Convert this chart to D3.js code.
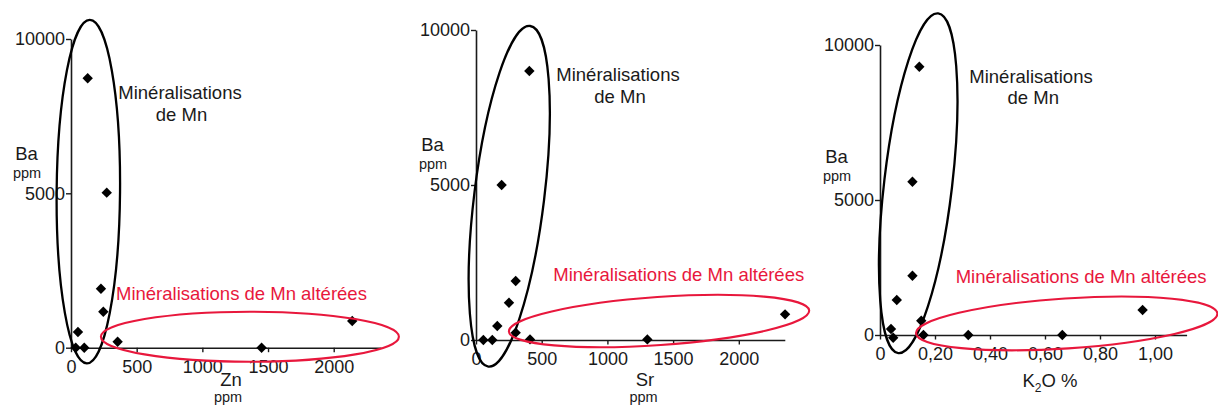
<!DOCTYPE html>
<html>
<head>
<meta charset="utf-8">
<script src="https://cdn.jsdelivr.net/npm/d3@7"></script>
<style>
html,body{margin:0;padding:0;background:#fff;}
svg{display:block;font-family:"Liberation Sans",Arial,sans-serif;}
</style>
</head>
<body>
<svg id="chart" width="1218" height="408"></svg>
<script>
// ---------- DATA ----------
const yTicks = [0, 5000, 10000];

const znValues = [127, 272, 228, 246, 53, 36, 101, 355, 1451, 2141];
const znBa     = [8727, 5021, 1911, 1166, 508, 0, 0, 195, 0, 865];
const znTicks  = [0, 500, 1000, 1500, 2000];

const srValues = [406, 195, 302, 251, 162, 56, 124, 302, 411, 1304, 2352];
const srBa     = [8677, 5000, 1903, 1204, 452, 0, 0, 237, 20, 20, 828];
const srTicks  = [0, 500, 1000, 1500, 2000];

const k2oValues = [0.143, 0.118, 0.118, 0.061, 0.040, 0.048, 0.150, 0.158, 0.321, 0.663, 0.955];
const k2oBa     = [9300, 5590, 2196, 1296, 222, -100, 530, 0, 0, 0, 926];
const k2oTicks  = [0, 0.2, 0.4, 0.6, 0.8, 1.0];

const groupLabel = ["Minéralisations", "de Mn"];
const alteredLabel = "Minéralisations de Mn altérées";

// ---------- LAYOUT ----------
const svg = d3.select("#chart");
const RED = "#e8173c";
const FS = 18.5;
const FS_UNIT = 14.5;

const panels = [
  {
    xs: znValues, ys: znBa, xTicks: znTicks, xMax: 2360,
    xr: [71, 381], yr: [347.7, 193.3, 39],
    fmt: d => String(d),
    xLabel: "Zn", xUnit: "ppm", xLabelPos: [231, 385.5], xUnitPos: [228, 402],
    baPos: [26.5, 159.5], ppmPos: [27, 177.5],
    grpPos: [180, 99.3], grpPos2: [181.5, 121],
    altPos: [116, 300],
    black: {cx: 132, cy: 5053, rx: 31.7, ry: 171.7, rot: 0.5},
    red:   {cx: 1362, cy: 356, rx: 149, ry: 25, rot: 0}
  },
  {
    xs: srValues, ys: srBa, xTicks: srTicks, xMax: 2350,
    xr: [476, 784.8], yr: [340, 185, 30],
    fmt: d => String(d),
    xLabel: "Sr", xUnit: "ppm", xLabelPos: [645, 385.5], xUnitPos: [643.5, 402],
    baPos: [432.5, 151.2], ppmPos: [433, 169],
    grpPos: [618, 81], grpPos2: [620, 103.3],
    altPos: [553.3, 280.7],
    black: {cx: 253, cy: 4635, rx: 35, ry: 171.6, rot: 7},
    red:   {cx: 1393, cy: 613, rx: 150.5, ry: 24, rot: -4}
  },
  {
    xs: k2oValues, ys: k2oBa, xTicks: k2oTicks, xMax: 1.115,
    xr: [880, 1186.6], yr: [335, 200, 45],
    fmt: d => d === 0 ? "0" : d3.format(".2f")(d).replace(".", ","),
    xLabel: "K2O", xUnit: null, xLabelPos: [1050, 386.5],
    baPos: [836.5, 162.8], ppmPos: [837, 180.5],
    grpPos: [1031, 82.7], grpPos2: [1033.3, 104.3],
    altPos: [955.7, 283.3],
    black: {cx: 0.139, cy: 5539, rx: 34, ry: 171, rot: 6.7},
    red:   {cx: 0.679, cy: 430, rx: 151, ry: 25, rot: -3.8}
  }
];

const diamond = "M0,-5.2L5.2,0L0,5.2L-5.2,0Z";

panels.forEach(p => {
  const x = d3.scaleLinear().domain([0, p.xMax]).range(p.xr);
  const y = d3.scaleLinear().domain([0, 5000, 10000]).range(p.yr);
  const g = svg.append("g");

  // y axis
  const ya = g.append("g")
    .attr("transform", `translate(${p.xr[0]},0)`)
    .call(d3.axisLeft(y).tickValues(yTicks).tickSize(5).tickSizeOuter(0).tickPadding(1).tickFormat(d => String(d)));
  // x axis
  const xa = g.append("g")
    .attr("transform", `translate(0,${p.yr[0]})`)
    .call(d3.axisBottom(x).tickValues(p.xTicks).tickSize(4.5).tickSizeOuter(0).tickPadding(8).tickFormat(p.fmt));
  [ya, xa].forEach(a => {
    a.select(".domain").attr("stroke", "#1a1a1a").attr("stroke-width", 1.6);
    a.selectAll(".tick line").attr("stroke", "#1a1a1a").attr("stroke-width", 1.4);
    a.selectAll(".tick text").attr("fill", "#1a1a1a")
      .style("font-family", '"Liberation Sans",Arial,sans-serif').style("font-size", "18px");
  });

  // points
  g.append("g").selectAll("path")
    .data(p.xs.map((v, i) => [v, p.ys[i]]))
    .join("path")
    .attr("d", diamond)
    .attr("transform", d => `translate(${x(d[0])},${y(d[1])})`)
    .attr("fill", "#000");

  // ellipses
  const bl = p.black;
  g.append("ellipse")
    .attr("transform", `translate(${x(bl.cx)},${y(bl.cy)}) rotate(${bl.rot})`)
    .attr("rx", bl.rx).attr("ry", bl.ry)
    .attr("fill", "none").attr("stroke", "#000").attr("stroke-width", 2.3);
  const rd = p.red;
  g.append("ellipse")
    .attr("transform", `translate(${x(rd.cx)},${y(rd.cy)}) rotate(${rd.rot})`)
    .attr("rx", rd.rx).attr("ry", rd.ry)
    .attr("fill", "none").attr("stroke", RED).attr("stroke-width", 2.1);

  // labels
  const txt = (s, pos, size, anchor, fill) => g.append("text")
    .attr("x", pos[0]).attr("y", pos[1])
    .attr("text-anchor", anchor).attr("fill", fill || "#1a1a1a")
    .style("font-size", size + "px").text(s);

  txt("Ba", p.baPos, FS, "middle");
  txt("ppm", p.ppmPos, FS_UNIT, "middle");
  txt(groupLabel[0], p.grpPos, FS, "middle");
  txt(groupLabel[1], p.grpPos2, FS, "middle");
  txt(alteredLabel, p.altPos, FS, "start", RED);

  if (p.xUnit) {
    txt(p.xLabel, p.xLabelPos, FS, "middle");
    txt(p.xUnit, p.xUnitPos, FS_UNIT, "middle");
  } else {
    const t = g.append("text")
      .attr("x", p.xLabelPos[0]).attr("y", p.xLabelPos[1])
      .attr("text-anchor", "middle").attr("fill", "#1a1a1a")
      .style("font-size", FS + "px");
    t.append("tspan").text("K");
    t.append("tspan").attr("dy", 5).style("font-size", "12px").text("2");
    t.append("tspan").attr("dy", -5).text("O %");
  }
});
</script>
</body>
</html>
